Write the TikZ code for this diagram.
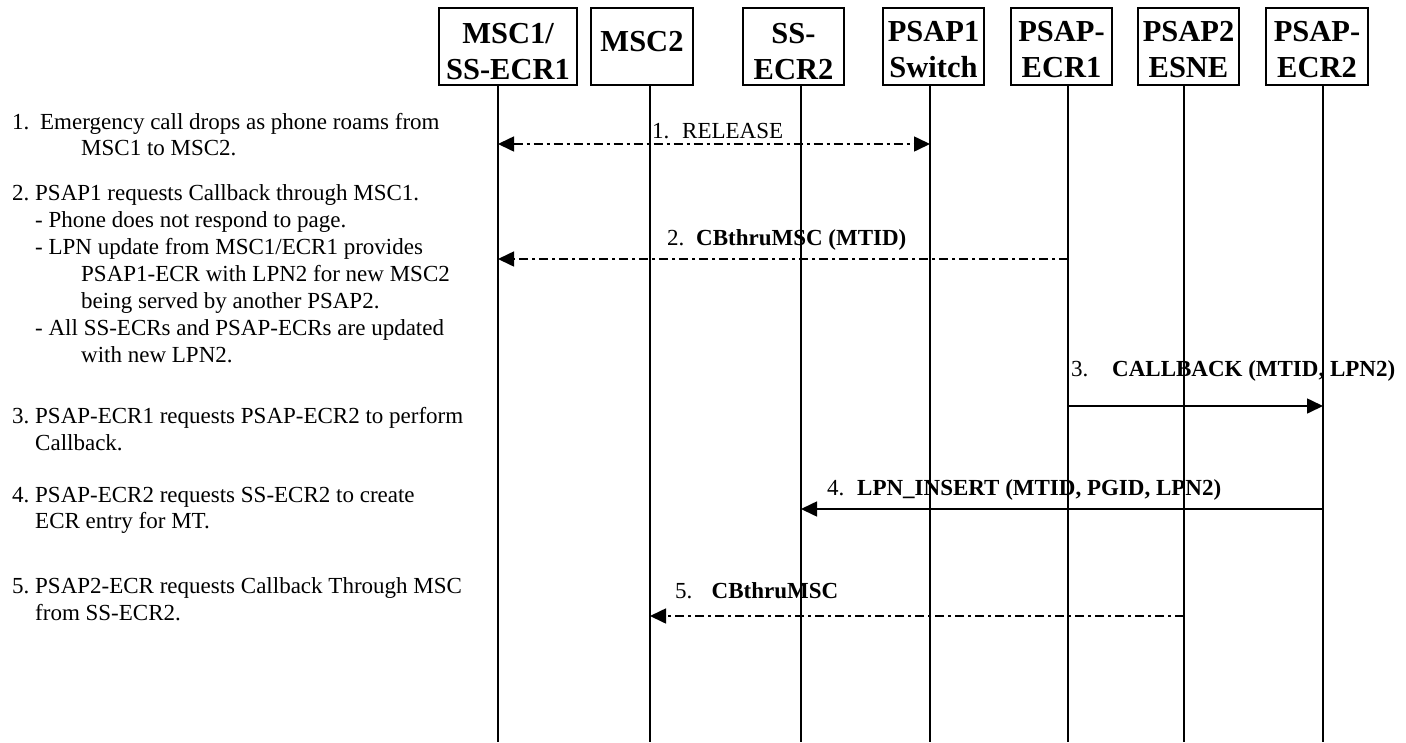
\documentclass[tikz,border=0pt]{standalone}
\usepackage{fontspec}
\setmainfont{Liberation Serif}
\usetikzlibrary{arrows.meta}

\tikzset{
  lane/.style={draw, line width=1.3pt, inner sep=0pt, minimum height=77pt},
  hdr/.style={font=\fontsize{30.5}{36}\selectfont\bfseries, align=center, inner sep=0pt},
  note/.style={font=\fontsize{23}{27}\selectfont, anchor=base west, inner sep=0pt},
  life/.style={line width=1.3pt},
  msg/.style={line width=1.6pt},
  dd/.style={dash pattern=on 9pt off 4pt on 3pt off 4pt},
  toend/.style={-{Triangle[length=16pt,width=15pt]}},
  bothends/.style={{Triangle[length=16pt,width=15pt]}-{Triangle[length=16pt,width=15pt]}},
}

\begin{document}
\frenchspacing
\begin{tikzpicture}[x=1pt,y=-1pt]
\useasboundingbox (0,0) rectangle (1406,742);

% entity boxes
\node[lane, minimum width=138pt] (b1) at (508,46.5) {};
\node[lane, minimum width=102pt] (b2) at (642,46.5) {};
\node[lane, minimum width=101pt] (b3) at (793.5,46.5) {};
\node[lane, minimum width=101pt] (b4) at (933.5,46.5) {};
\node[lane, minimum width=101pt] (b5) at (1061.5,46.5) {};
\node[lane, minimum width=101pt] (b6) at (1188.5,46.5) {};
\node[lane, minimum width=102pt] (b7) at (1317,46.5) {};

\node[hdr] (h1) at (508,51.5) {MSC1/\\SS-ECR1};
\node[hdr] (h2) at (642,42) {MSC2};
\node[hdr] (h3) at (793.5,51.5) {SS-\\ECR2};
\node[hdr] (h4) at (933.5,49.5) {PSAP1\\Switch};
\node[hdr] (h5) at (1061.5,49.5) {PSAP-\\ECR1};
\node[hdr] (h6) at (1188.5,49.5) {PSAP2\\ESNE};
\node[hdr] (h7) at (1317,49.5) {PSAP-\\ECR2};

% lifelines
\foreach \n/\x in {1/498,2/650,3/801,4/930,5/1068,6/1184,7/1323}{
  \coordinate (t\n) at (\x,85);
  \coordinate (e\n) at (\x,742);
  \draw[life] (t\n) -- (e\n);
}

% message 1
\coordinate (m1a) at (t1 |- 0,144);
\coordinate (m1b) at (t4 |- 0,144);
\draw[msg, dd, bothends] (m1a) -- (m1b);
\node[note] (l1) at (652,138) {1.\hspace{12.75pt}RELEASE};

% message 2
\coordinate (m2a) at (t5 |- 0,259);
\coordinate (m2b) at (t1 |- 0,259);
\draw[msg, dd, toend] (m2a) -- (m2b);
\node[note] (l2) at (667,245) {2.\hspace{11.75pt}\textbf{CBthruMSC (MTID)}};

% message 3
\coordinate (m3a) at (t5 |- 0,406);
\coordinate (m3b) at (t7 |- 0,406);
\draw[msg, toend] (m3a) -- (m3b);
\node[note] (l3) at (1071,376) {3.\hspace{23.75pt}\textbf{CALLBACK (MTID, LPN2)}};

% message 4
\coordinate (m4a) at (t7 |- 0,509);
\coordinate (m4b) at (t3 |- 0,509);
\draw[msg, toend] (m4a) -- (m4b);
\node[note] (l4) at (827,495) {4.\hspace{12.75pt}\textbf{LPN\_INSERT (MTID, PGID, LPN2)}};

% message 5
\coordinate (m5a) at (t6 |- 0,616);
\coordinate (m5b) at (t2 |- 0,616);
\draw[msg, dd, toend] (m5a) -- (m5b);
\node[note] (l5) at (675,598) {5.\hspace{19.25pt}\textbf{CBthruMSC}};

% step descriptions
\node[note] (s1) at (12,129) {1.\hspace{10.75pt}Emergency call drops as phone roams from};
\node[note] (s2) at (81,155) {MSC1 to MSC2.};
\node[note] (s3) at (12,200) {2. PSAP1 requests Callback through MSC1.};
\node[note] (s4) at (35,227) {- Phone does not respond to page.};
\node[note] (s5) at (35,254) {- LPN update from MSC1/ECR1 provides};
\node[note] (s6) at (81,281) {PSAP1-ECR with LPN2 for new MSC2};
\node[note] (s7) at (81,308) {being served by another PSAP2.};
\node[note] (s8) at (35,335) {- All SS-ECRs and PSAP-ECRs are updated};
\node[note] (s9) at (81,362) {with new LPN2.};
\node[note] (s10) at (12,423) {3. PSAP-ECR1 requests PSAP-ECR2 to perform};
\node[note] (s11) at (35,450) {Callback.};
\node[note] (s12) at (12,502) {4. PSAP-ECR2 requests SS-ECR2 to create};
\node[note] (s13) at (35,528) {ECR entry for MT.};
\node[note] (s14) at (12,593) {5. PSAP2-ECR requests Callback Through MSC};
\node[note] (s15) at (35,620) {from SS-ECR2.};
\end{tikzpicture}
\end{document}
